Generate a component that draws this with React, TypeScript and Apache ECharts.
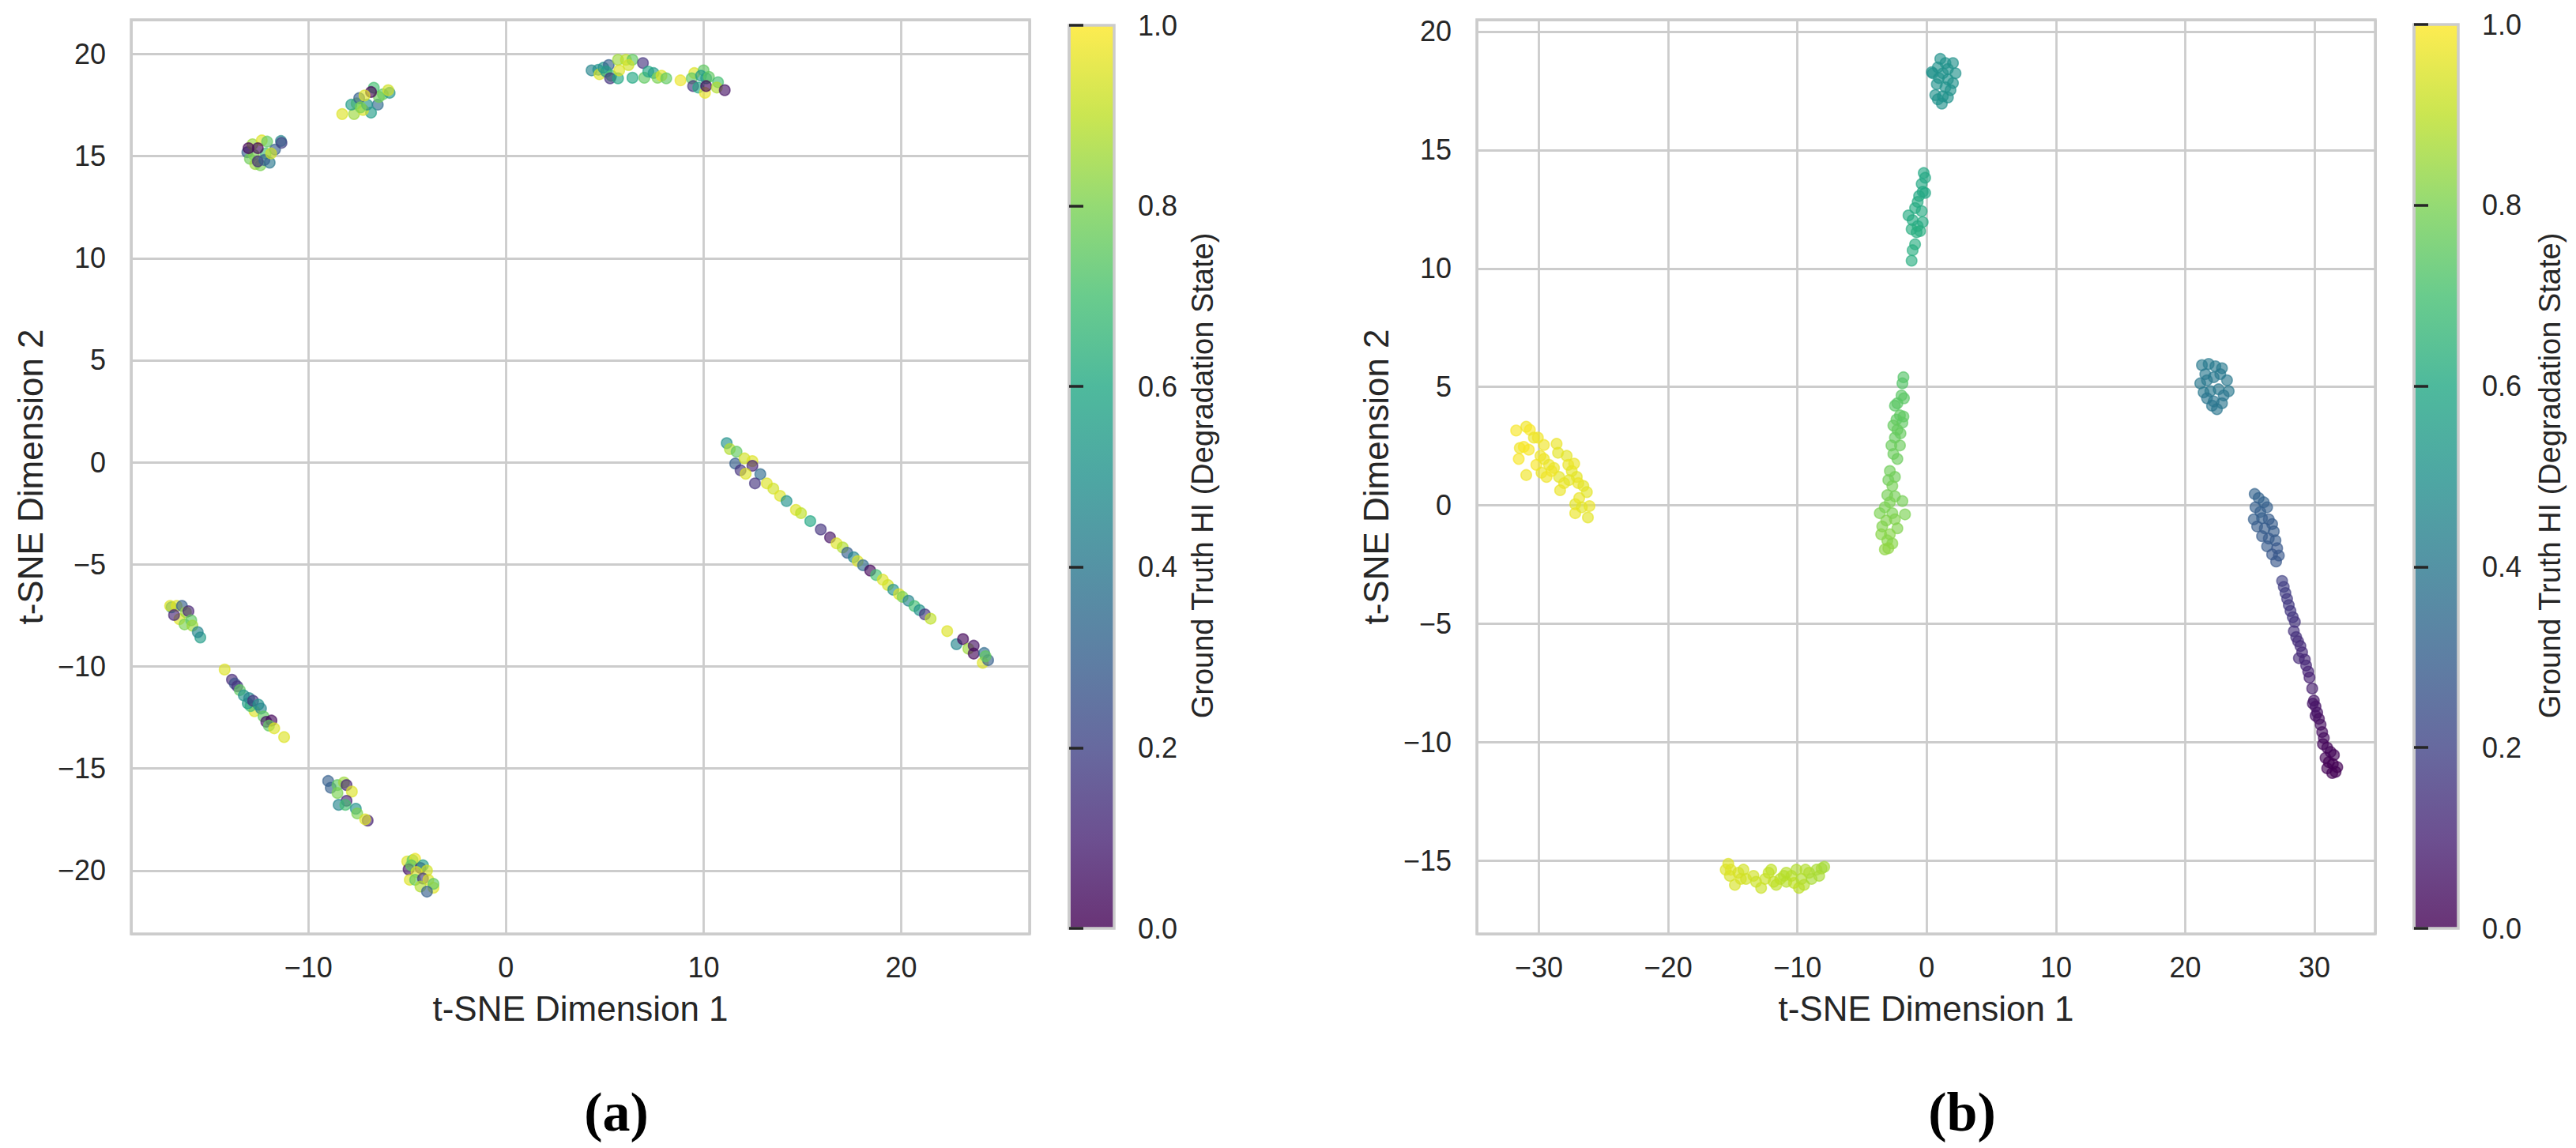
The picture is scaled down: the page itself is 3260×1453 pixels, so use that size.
import React, { useEffect, useRef } from "react";
import * as echarts from "echarts";

type P = [number, number, number]; // [t-SNE dim 1, t-SNE dim 2, ground truth HI]

// ---------- Panel (a) ----------
const a_cluster1: P[] = [
  [-13.09, 15.19, 0.3], [-12.83, 15.58, 0.85], [-12.36, 15.77, 0.95], [-12.09, 15.71, 0.75],
  [-11.39, 15.74, 0.45], [-11.69, 15.32, 0.3], [-12.96, 14.87, 0.78], [-12.69, 14.61, 0.85],
  [-12.43, 14.55, 0.8], [-12.16, 15.13, 0.7], [-12.76, 15.06, 0.8], [-11.96, 14.68, 0.4],
  [-12.56, 14.74, 0.12], [-12.23, 14.81, 0.3], [-11.36, 15.65, 0.2], [-11.89, 15.13, 0.93],
  [-13.03, 15.39, 0.0], [-12.56, 15.39, 0.02],
];
const a_cluster2: P[] = [
  [-8.29, 17.06, 0.95], [-7.69, 17.06, 0.85], [-7.56, 17.58, 0.8], [-7.83, 17.52, 0.55],
  [-6.49, 17.52, 0.35], [-6.23, 18.03, 0.75], [-5.89, 18.1, 0.5], [-5.96, 18.23, 0.93],
  [-6.69, 18.35, 0.7], [-6.83, 17.13, 0.55], [-7.23, 17.26, 0.95], [-7.03, 17.52, 0.5],
  [-7.43, 17.84, 0.3], [-6.43, 17.9, 0.78], [-7.36, 17.39, 0.8], [-6.83, 18.14, 0.0],
  [-7.16, 17.97, 0.95],
];
const a_cluster3: P[] = [
  [4.33, 19.2, 0.45], [4.67, 19.23, 0.5], [4.73, 19.01, 0.95], [4.93, 19.33, 0.5],
  [5.2, 19.46, 0.3], [5.07, 19.14, 0.55], [5.33, 18.94, 0.7], [5.27, 18.81, 0.15],
  [5.67, 19.72, 0.85], [5.67, 18.81, 0.6], [5.73, 19.2, 0.95], [6.07, 19.72, 0.9],
  [6.4, 19.72, 0.75], [6.2, 19.46, 0.93], [6.4, 18.84, 0.6], [6.93, 19.56, 0.15],
  [7.0, 18.84, 0.75], [7.2, 19.14, 0.6], [7.47, 19.07, 0.55], [7.67, 18.84, 0.8],
  [7.87, 18.94, 0.95], [8.11, 18.81, 0.75],
  [8.83, 18.71, 0.97], [9.53, 19.07, 0.95], [9.4, 18.81, 0.75], [10.0, 19.2, 0.75],
  [9.47, 18.43, 0.15], [9.73, 18.36, 0.6], [9.87, 18.94, 0.55], [10.07, 18.1, 0.97],
  [10.13, 18.81, 0.55], [10.27, 18.88, 0.75], [10.13, 18.43, 0.02], [10.73, 18.62, 0.7],
  [10.67, 18.36, 0.88], [11.07, 18.23, 0.05],
];
const a_cluster4: P[] = [
  [11.17, 0.94, 0.5], [11.33, 0.65, 0.88], [11.67, 0.52, 0.75], [11.6, -0.06, 0.3],
  [12.07, 0.19, 0.93], [12.47, 0.06, 0.95], [12.47, -0.17, 0.1], [11.87, -0.39, 0.15],
  [12.13, -0.56, 0.95], [12.87, -0.58, 0.35], [12.6, -1.03, 0.15], [13.2, -1.03, 0.95],
  [13.53, -1.29, 0.93], [13.87, -1.64, 0.95], [14.2, -1.9, 0.5], [14.67, -2.33, 0.95],
  [14.93, -2.49, 0.9], [15.4, -2.88, 0.6], [15.93, -3.29, 0.15], [16.4, -3.68, 0.05],
  [16.73, -3.97, 0.95], [17.04, -4.17, 0.88], [17.27, -4.43, 0.3], [17.6, -4.65, 0.45],
  [17.8, -4.84, 0.95], [18.07, -5.04, 0.35], [18.43, -5.3, 0.02], [18.73, -5.52, 0.7],
  [19.07, -5.75, 0.95], [19.33, -6.01, 0.93], [19.6, -6.24, 0.5], [19.89, -6.46, 0.95],
  [20.07, -6.59, 0.8], [20.37, -6.78, 0.45], [20.67, -7.04, 0.7], [20.93, -7.24, 0.5],
  [21.2, -7.45, 0.15], [21.49, -7.66, 0.9], [22.33, -8.27, 0.95], [22.8, -8.91, 0.45],
  [23.13, -8.66, 0.02], [23.4, -9.13, 0.85], [23.67, -8.98, 0.05], [23.67, -9.37, 0.02],
  [24.2, -9.34, 0.35], [24.13, -9.82, 0.95], [24.4, -9.69, 0.3], [24.27, -9.5, 0.75],
];
const a_cluster5: P[] = [
  [-16.93, -7.1, 0.5], [-17.0, -7.03, 0.95], [-16.67, -7.03, 0.95], [-16.4, -7.03, 0.3],
  [-16.53, -7.68, 0.95], [-16.2, -7.35, 0.85], [-16.07, -7.29, 0.1], [-16.27, -7.94, 0.8],
  [-15.93, -7.74, 0.75], [-15.87, -8.0, 0.85], [-15.47, -8.58, 0.55], [-15.6, -8.32, 0.45],
  [-16.8, -7.48, 0.1],
];
const a_cluster6: P[] = [
  [-14.24, -10.15, 0.95], [-13.87, -10.65, 0.12], [-13.73, -10.84, 0.25], [-13.6, -10.97, 0.15],
  [-13.47, -11.16, 0.75], [-13.27, -11.42, 0.5], [-12.73, -12.19, 0.95], [-12.93, -11.94, 0.7],
  [-13.07, -11.81, 0.55], [-13.0, -11.55, 0.45], [-12.8, -11.68, 0.15], [-12.53, -11.87, 0.5],
  [-12.4, -12.06, 0.45], [-12.27, -12.45, 0.75], [-12.13, -12.71, 0.05], [-11.87, -12.65, 0.02],
  [-12.0, -12.9, 0.75], [-11.73, -13.03, 0.95], [-11.23, -13.46, 0.95],
];
const a_cluster7: P[] = [
  [-9.0, -15.61, 0.3], [-8.87, -15.94, 0.3], [-8.53, -15.81, 0.75], [-8.2, -15.68, 0.85],
  [-8.07, -15.81, 0.1], [-7.8, -16.13, 0.95], [-8.53, -16.2, 0.8], [-8.07, -16.58, 0.1],
  [-8.47, -16.78, 0.45], [-8.13, -16.78, 0.7], [-7.6, -16.97, 0.5], [-7.53, -17.2, 0.8],
  [-7.0, -17.55, 0.1], [-7.13, -17.49, 0.95],
];
const a_cluster8: P[] = [
  [-5.0, -19.55, 0.95], [-4.73, -19.49, 0.75], [-4.6, -19.42, 0.97], [-4.93, -19.94, 0.05],
  [-4.8, -19.74, 0.75], [-4.33, -19.87, 0.1], [-4.2, -19.74, 0.55], [-4.0, -20.0, 0.93],
  [-4.53, -20.07, 0.95], [-4.87, -20.45, 0.95], [-4.6, -20.45, 0.75], [-4.2, -20.39, 0.15],
  [-3.93, -20.45, 0.95], [-4.33, -20.78, 0.88], [-3.67, -20.84, 0.95], [-3.67, -20.65, 0.75],
  [-4.0, -21.03, 0.3],
];

// ---------- Panel (b) ----------
const b_cluster1: P[] = [
  [-31.76, 3.16, 0.99], [-31.48, 2.42, 0.98], [-31.56, 1.96, 0.99], [-30.98, 3.32, 0.98],
  [-30.7, 3.19, 0.99], [-30.98, 1.28, 0.98], [-30.39, 2.86, 0.97], [-30.08, 2.86, 0.98],
  [-30.2, 1.71, 0.99], [-29.8, 1.38, 0.97], [-29.61, 2.55, 0.98], [-29.61, 1.96, 0.97],
  [-29.41, 1.2, 0.98], [-28.63, 2.6, 0.97], [-28.52, 2.22, 0.96], [-28.83, 1.58, 0.97],
  [-28.44, 1.2, 0.96], [-28.36, 0.64, 0.97], [-27.85, 2.09, 0.96], [-27.73, 1.71, 0.97],
  [-27.46, 1.45, 0.96], [-27.27, 1.76, 0.97], [-27.07, 1.2, 0.96], [-26.95, 0.94, 0.97],
  [-27.19, 0.05, 0.96], [-26.88, 0.31, 0.97], [-26.56, 0.82, 0.96], [-26.29, 0.56, 0.96],
  [-26.09, -0.03, 0.97], [-26.21, -0.51, 0.96], [-27.19, -0.33, 0.97], [-28.05, 0.94, 0.97],
  [-29.02, 1.45, 0.98], [-30.78, 2.35, 0.99], [-31.17, 2.47, 0.99], [-29.88, 2.09, 0.98],
  [-29.22, 1.71, 0.97], [-27.66, 1.07, 0.96], [-26.68, -0.08, 0.96],
];
const b_cluster2: P[] = [
  [-15.55, -15.38, 0.95], [-15.35, -15.13, 0.95], [-15.23, -15.64, 0.94], [-15.16, -15.38, 0.95],
  [-14.84, -16.02, 0.94], [-14.57, -15.51, 0.94], [-14.38, -15.77, 0.94], [-14.18, -15.38, 0.93],
  [-13.98, -15.77, 0.93], [-13.4, -15.64, 0.93], [-13.2, -15.89, 0.92], [-12.81, -16.15, 0.92],
  [-12.5, -15.77, 0.92], [-12.23, -15.51, 0.91], [-12.03, -15.38, 0.9], [-11.84, -15.89, 0.91],
  [-11.64, -16.02, 0.9], [-11.33, -15.77, 0.9], [-11.05, -15.64, 0.89], [-10.86, -15.51, 0.89],
  [-10.86, -15.89, 0.89], [-10.47, -15.64, 0.89], [-10.27, -15.94, 0.9], [-10.08, -15.38, 0.88],
  [-9.88, -16.15, 0.9], [-9.69, -15.77, 0.88], [-9.49, -16.02, 0.89], [-9.38, -15.38, 0.88],
  [-9.1, -15.51, 0.88], [-8.91, -15.77, 0.87], [-8.52, -15.38, 0.87], [-8.32, -15.64, 0.87],
  [-8.13, -15.33, 0.87], [-7.93, -15.26, 0.86],
];
const b_cluster3: P[] = [
  [-1.8, 5.41, 0.73], [-1.88, 5.15, 0.73], [-1.95, 4.64, 0.74], [-1.76, 4.52, 0.74],
  [-2.27, 4.31, 0.74], [-2.46, 4.21, 0.74], [-2.07, 3.8, 0.75], [-1.8, 3.75, 0.75],
  [-2.34, 3.62, 0.75], [-1.88, 3.49, 0.75], [-2.58, 3.37, 0.76], [-2.27, 3.19, 0.76],
  [-2.03, 3.04, 0.76], [-2.46, 2.86, 0.76], [-2.73, 2.53, 0.77], [-2.07, 2.53, 0.77],
  [-2.58, 2.17, 0.77], [-2.27, 1.96, 0.77], [-2.85, 1.45, 0.78], [-2.46, 1.2, 0.78],
  [-2.97, 1.07, 0.78], [-2.66, 0.82, 0.79], [-3.05, 0.43, 0.79], [-2.46, 0.38, 0.79],
  [-1.88, 0.18, 0.79], [-2.85, 0.13, 0.8], [-3.24, -0.08, 0.8], [-3.63, -0.33, 0.8],
  [-2.66, -0.33, 0.8], [-1.68, -0.38, 0.8], [-3.13, -0.64, 0.81], [-2.46, -0.59, 0.81],
  [-3.44, -0.89, 0.81], [-2.27, -0.97, 0.81], [-2.85, -1.22, 0.82], [-3.52, -1.22, 0.82],
  [-3.05, -1.48, 0.82], [-2.66, -1.61, 0.82], [-3.24, -1.86, 0.83], [-2.97, -1.81, 0.83],
];
const b_cluster4: P[] = [
  [-0.23, 14.03, 0.6], [-0.12, 13.83, 0.6], [-0.39, 13.57, 0.6], [-0.31, 13.24, 0.6],
  [-0.59, 13.06, 0.6], [-0.12, 13.19, 0.6], [-0.7, 12.81, 0.61], [-0.9, 12.55, 0.61],
  [-0.39, 12.42, 0.61], [-1.41, 12.24, 0.61], [-1.09, 12.04, 0.61], [-0.31, 11.96, 0.61],
  [-0.7, 11.79, 0.61], [-1.17, 11.66, 0.62], [-0.51, 11.58, 0.62], [-0.78, 11.53, 0.62],
  [-0.9, 11.02, 0.62], [-1.09, 10.77, 0.62], [-1.17, 10.33, 0.62],
];
const b_cluster5: P[] = [
  [1.05, 18.85, 0.5], [1.45, 18.67, 0.5], [2.03, 18.67, 0.5], [0.86, 18.49, 0.5],
  [1.64, 18.42, 0.5], [0.47, 18.24, 0.5], [1.25, 18.24, 0.5], [2.23, 18.24, 0.5],
  [0.94, 18.04, 0.5], [1.64, 17.98, 0.5], [2.03, 17.83, 0.5], [0.78, 17.78, 0.5],
  [1.45, 17.65, 0.5], [1.84, 17.53, 0.5], [0.66, 17.32, 0.5], [1.25, 17.27, 0.5],
  [1.64, 17.22, 0.5], [0.86, 17.14, 0.5], [1.17, 16.96, 0.5], [0.39, 18.29, 0.5],
];
const b_cluster6: P[] = [
  [21.29, 5.92, 0.41], [21.81, 5.97, 0.41], [22.33, 5.87, 0.41], [22.84, 5.79, 0.41],
  [21.16, 5.15, 0.4], [21.68, 5.28, 0.4], [22.2, 5.41, 0.4], [22.71, 5.54, 0.4],
  [23.23, 5.28, 0.4], [21.42, 4.77, 0.4], [21.94, 4.82, 0.4], [22.58, 4.9, 0.4],
  [23.36, 4.82, 0.4], [21.68, 4.52, 0.39], [22.2, 4.39, 0.39], [22.84, 4.31, 0.39],
  [22.45, 4.06, 0.39], [22.07, 4.21, 0.39], [22.97, 4.64, 0.39], [21.55, 5.54, 0.4],
];
const b_cluster7: P[] = [
  [25.37, 0.48, 0.31], [25.68, 0.31, 0.31], [26.07, 0.13, 0.31], [25.43, -0.08, 0.3],
  [25.81, -0.28, 0.3], [26.33, -0.08, 0.3], [25.3, -0.59, 0.3], [25.94, -0.54, 0.3],
  [26.46, -0.59, 0.29], [26.72, -0.79, 0.29], [25.56, -0.89, 0.29], [26.15, -0.97, 0.29],
  [26.85, -1.1, 0.29], [25.94, -1.3, 0.28], [26.46, -1.4, 0.28], [26.98, -1.48, 0.28],
  [26.33, -1.73, 0.28], [27.11, -1.81, 0.27], [26.72, -2.07, 0.27], [27.24, -2.12, 0.27],
  [27.03, -2.37, 0.27],
];
const b_cluster8: P[] = [
  [27.49, -3.19, 0.19], [27.62, -3.44, 0.18], [27.75, -3.7, 0.18], [27.88, -3.95, 0.17],
  [28.01, -4.21, 0.17], [28.14, -4.46, 0.16], [28.32, -4.72, 0.16], [28.48, -4.92, 0.15],
  [28.4, -5.31, 0.14], [28.58, -5.56, 0.14], [28.73, -5.74, 0.13], [28.91, -5.94, 0.13],
  [29.04, -6.2, 0.12], [28.79, -6.45, 0.12], [29.25, -6.51, 0.11], [29.35, -6.76, 0.11],
  [29.51, -7.02, 0.1], [29.61, -7.27, 0.09], [29.82, -7.73, 0.08], [29.95, -8.24, 0.06],
  [29.87, -8.37, 0.06], [30.08, -8.49, 0.05], [30.21, -8.75, 0.05], [30.08, -8.88, 0.05],
  [30.34, -9.01, 0.04], [30.47, -9.26, 0.04], [30.59, -9.57, 0.03], [30.72, -9.82, 0.03],
  [30.65, -10.08, 0.02], [30.98, -10.23, 0.02], [31.24, -10.41, 0.01], [31.5, -10.54, 0.01],
  [30.85, -10.66, 0.01], [31.11, -10.84, 0.0], [31.42, -10.92, 0.0], [31.76, -11.05, 0.0],
  [30.98, -11.1, 0.0], [31.37, -11.3, 0.0], [31.63, -11.25, 0.0],
];

const panelA: P[] = [
  ...a_cluster1, ...a_cluster2, ...a_cluster3, ...a_cluster4,
  ...a_cluster5, ...a_cluster6, ...a_cluster7, ...a_cluster8,
];
const panelB: P[] = [
  ...b_cluster1, ...b_cluster2, ...b_cluster3, ...b_cluster4,
  ...b_cluster5, ...b_cluster6, ...b_cluster7, ...b_cluster8,
];

const xTitle = "t-SNE Dimension 1";
const yTitle = "t-SNE Dimension 2";
const colorbarTitle = "Ground Truth HI (Degradation State)";
const panelLabels = ["(a)", "(b)"];

// ---------- styling ----------
const VIRIDIS = [
  "#440154", "#482475", "#414487", "#355f8d", "#2a788e", "#21918c",
  "#22a884", "#44bf70", "#7ad151", "#bddf26", "#fde725",
];
const ALPHA = 0.8;
const FONT = "'Liberation Sans', Arial, Helvetica, sans-serif";
const TEXT = "#262626";
const GRID_C = "#cccccc";

function hexToRgb(h: string): number[] {
  return [1, 3, 5].map((i) => parseInt(h.slice(i, i + 2), 16));
}
function viridis(t: number): number[] {
  const v = Math.max(0, Math.min(1, t)) * (VIRIDIS.length - 1);
  const i = Math.min(Math.floor(v), VIRIDIS.length - 2);
  const f = v - i;
  const a = hexToRgb(VIRIDIS[i]);
  const b = hexToRgb(VIRIDIS[i + 1]);
  return a.map((c, k) => Math.round(c + (b[k] - c) * f));
}
function rgba(t: number, alpha = ALPHA) {
  const [r, g, b] = viridis(t);
  return `rgba(${r},${g},${b},${alpha})`;
}
function toItems(pts: P[]) {
  return pts.map((p) => ({
    value: p,
    itemStyle: { color: rgba(p[2]), borderColor: rgba(p[2]), borderWidth: 1.6 },
  }));
}
function fmtTick(step: number) {
  return (v: number) =>
    Math.abs(v / step - Math.round(v / step)) < 1e-6 ? String(Math.round(v)).replace("-", "\u2212") : "";
}

const layoutA = { left: 166, top: 25, width: 1137, height: 1157 };
const layoutB = { left: 1869, top: 25, width: 1137, height: 1157 };
const cbA = { left: 1353, top: 32, width: 57, height: 1143 };
const cbB = { left: 3055, top: 31, width: 56, height: 1144 };

function mainX(gridIndex: number, min: number, max: number, step: number) {
  return {
    type: "value", gridIndex, min, max, minInterval: step, maxInterval: step,
    axisLine: { show: false }, axisTick: { show: false },
    splitLine: { show: true, lineStyle: { color: GRID_C, width: 2.8 } },
    axisLabel: { fontSize: 36, color: TEXT, fontFamily: FONT, margin: 24, formatter: fmtTick(step) },
    name: xTitle, nameLocation: "middle", nameGap: 72,
    nameTextStyle: { fontSize: 44, color: TEXT, fontFamily: FONT },
  };
}
function mainY(gridIndex: number, min: number, max: number, step: number) {
  return {
    type: "value", gridIndex, min, max, minInterval: step, maxInterval: step,
    axisLine: { show: false }, axisTick: { show: false },
    splitLine: { show: true, lineStyle: { color: GRID_C, width: 2.8 } },
    axisLabel: { fontSize: 36, color: TEXT, fontFamily: FONT, margin: 32, formatter: fmtTick(step) },
    name: yTitle, nameLocation: "middle", nameGap: 106,
    nameTextStyle: { fontSize: 44, color: TEXT, fontFamily: FONT },
  };
}
function cbY(gridIndex: number) {
  return {
    type: "value", gridIndex, min: 0, max: 1, interval: 0.2, position: "right",
    axisLine: { show: true, lineStyle: { color: GRID_C, width: 3.5 } },
    axisTick: { show: true, inside: false, length: 18, lineStyle: { color: TEXT, width: 3.5 } },
    splitLine: { show: false },
    axisLabel: { fontSize: 36, color: TEXT, fontFamily: FONT, margin: 30, formatter: (v: number) => v.toFixed(1) },
    z: 10,
  };
}
function cbX(gridIndex: number) {
  return { type: "value", gridIndex, min: 0, max: 1, show: false };
}
function gradientRect(r: { left: number; top: number; width: number; height: number }) {
  const stops = VIRIDIS.map((_, i) => ({
    offset: 1 - i / (VIRIDIS.length - 1),
    color: rgba(i / (VIRIDIS.length - 1)),
  })).reverse();
  return {
    type: "rect",
    z: 1,
    shape: { x: r.left, y: r.top, width: r.width, height: r.height },
    style: {
      fill: new echarts.graphic.LinearGradient(0, 0, 0, 1, stops),
      stroke: GRID_C,
      lineWidth: 3.5,
    },
  };
}

export default function App() {
  const ref = useRef<HTMLDivElement>(null);
  useEffect(() => {
    if (!ref.current) return;
    const chart = echarts.init(ref.current, undefined, { renderer: "svg" });
    const gridStyle = { show: true, borderColor: GRID_C, borderWidth: 3.5, backgroundColor: "#ffffff" };
    chart.setOption({
      animation: false,
      backgroundColor: "#ffffff",
      textStyle: { fontFamily: FONT },
      grid: [
        { ...layoutA, ...gridStyle, containLabel: false },
        { ...layoutB, ...gridStyle, containLabel: false },
        { ...cbA, show: false, containLabel: false },
        { ...cbB, show: false, containLabel: false },
      ],
      xAxis: [mainX(0, -18.97, 26.5, 10), mainX(1, -34.8, 34.7, 10), cbX(2), cbX(3)],
      yAxis: [mainY(0, -23.1, 21.68, 5), mainY(1, -18.09, 20.5, 5), cbY(2), cbY(3)],
      series: [
        {
          type: "scatter", xAxisIndex: 0, yAxisIndex: 0, symbol: "circle", symbolSize: 13.5,
          silent: true, data: toItems(panelA),
        },
        {
          type: "scatter", xAxisIndex: 1, yAxisIndex: 1, symbol: "circle", symbolSize: 13.5,
          silent: true, data: toItems(panelB),
        },
      ],
      graphic: [
        gradientRect(cbA),
        gradientRect(cbB),
        {
          type: "text", x: 1522, y: 602, rotation: Math.PI / 2,
          style: { text: colorbarTitle, fontSize: 38, fontFamily: FONT, fill: TEXT, align: "center", verticalAlign: "middle" },
        },
        {
          type: "text", x: 3227, y: 602, rotation: Math.PI / 2,
          style: { text: colorbarTitle, fontSize: 38, fontFamily: FONT, fill: TEXT, align: "center", verticalAlign: "middle" },
        },
        {
          type: "text", x: 780, y: 1407,
          style: { text: panelLabels[0], fontSize: 70, fontWeight: "bold", fontFamily: "'Liberation Serif', 'Times New Roman', serif", fill: "#000000", align: "center", verticalAlign: "middle" },
        },
        {
          type: "text", x: 2483, y: 1407,
          style: { text: panelLabels[1], fontSize: 70, fontWeight: "bold", fontFamily: "'Liberation Serif', 'Times New Roman', serif", fill: "#000000", align: "center", verticalAlign: "middle" },
        },
      ],
    });
    return () => chart.dispose();
  }, []);
  return (
    <div
      ref={ref}
      style={{ position: "absolute", left: 0, top: 0, width: 3260, height: 1453, background: "#ffffff" }}
    />
  );
}
